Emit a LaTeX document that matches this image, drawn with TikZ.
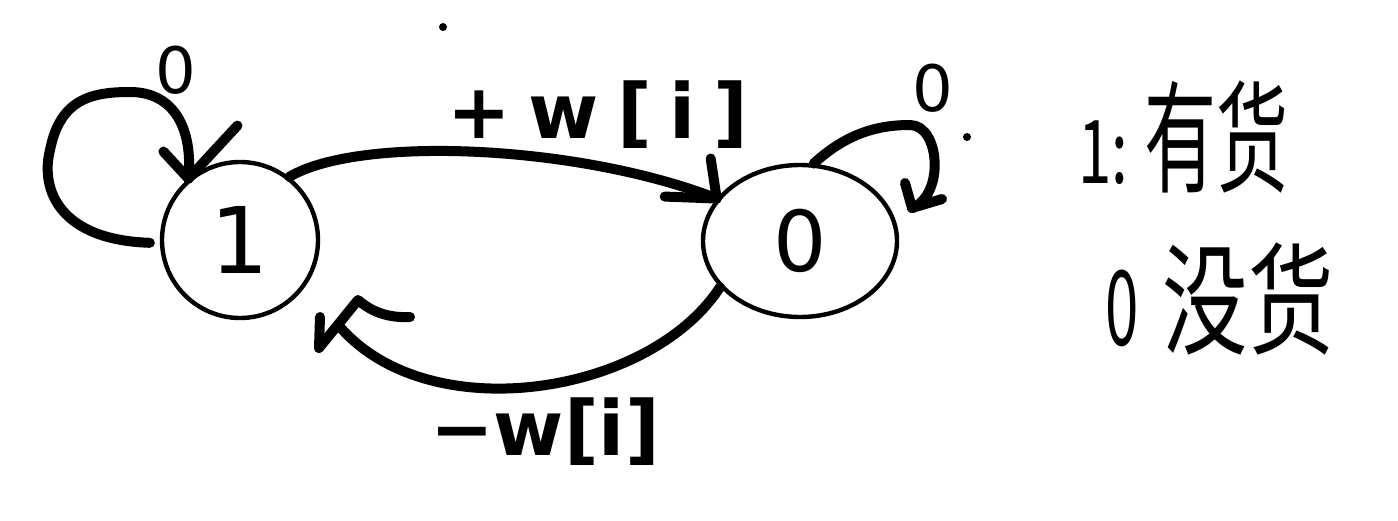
\documentclass[tikz,border=0pt]{standalone}
\usepackage{fontspec}
\setmainfont{DejaVu Sans}
\newfontfamily\cjkfont{Noto Sans CJK SC}
\usetikzlibrary{shapes.geometric}
\begin{document}
\begin{tikzpicture}[x=0.5pt,y=-0.5pt,
  pen/.style={line width=5pt, line cap=round, line join=round},
  state/.style={draw, line width=2.2pt, inner sep=0pt},
  loopnum/.style={inner sep=0pt, font=\fontsize{32pt}{32pt}\selectfont},
  edgelbl/.style={inner sep=0pt}]
\useasboundingbox (0,0) rectangle (1398,520);

% the two states
\node[state, circle, minimum size=78pt, font=\fontsize{46pt}{46pt}\selectfont] (one) at (240,240) {1};
\node[state, ellipse, minimum width=97pt, minimum height=76pt, font=\fontsize{42pt}{42pt}\selectfont] (zero) at (800,241) {0};

% self loop on state 1
\draw[pen] ([xshift=-5pt]one.182) .. controls (60,240) and (40,190) .. (50,150)
  .. controls (60,100) and (90,92) .. (130,92)
  .. controls (175,92) and (193,130) .. (one.130);
\draw[pen] (one.130) -- ++(-25,-27);
\draw[pen] (one.130) -- ++(49,-53);
\node[loopnum] (lone) at (176,70) {0};

% self loop on state 0
\coordinate (tipzero) at (912,208);
\draw[pen] (zero.80) .. controls (845,135) and (875,125) .. (910,125)
  .. controls (940,125) and (945,195) .. (tipzero);
\draw[pen] (tipzero) -- ++(-7,-25);
\draw[pen] (tipzero) -- ++(30,-9);
\node[loopnum] (lzero) at (933,88) {0};

% transition 1 -> 0
\draw[pen] (one.52) .. controls (360,135) and (580,145) .. (zero.153);
\draw[pen] (zero.153) -- ++(-6,-40);
\draw[pen] (zero.153) -- ++(-52,-2);
\node[edgelbl, font=\fontsize{38pt}{38pt}\bfseries] (plus) at (598,115)
  {+\kern9pt w\kern9pt[\kern9pt i\kern9pt]};

% transition 0 -> 1
\coordinate (btip) at (319,348);
\coordinate (bjoin) at (340,327);
\draw[pen] (zero.210) .. controls (650,395) and (430,430) .. (bjoin);
\draw[pen] (btip) -- ++(1,-31);
\draw[pen] (btip) -- (358,300) .. controls (372,312) and (388,318) .. (410,317);
\node[edgelbl, font=\fontsize{38pt}{38pt}\bfseries] (minus) at (545,432)
  {−w[i]};

% stray dots
\fill (443,27) circle (2pt);
\fill (967,137) circle (2pt);

% legend
\node[anchor=base west, inner sep=0pt] (have) at (1078,183)
  {\cjkfont\scalebox{0.75}[1.1]{\fontsize{40pt}{40pt}\selectfont 1:}\kern8pt\scalebox{0.8}[1.35]{\fontsize{45pt}{45pt}\selectfont 有货}};
\node[anchor=base west, inner sep=0pt] (none) at (1105,345)
  {\cjkfont\scalebox{0.75}[1.3]{\fontsize{40pt}{40pt}\selectfont 0}\kern12pt\scalebox{0.95}[1.35]{\fontsize{45pt}{45pt}\selectfont 没货}};
\end{tikzpicture}
\end{document}
